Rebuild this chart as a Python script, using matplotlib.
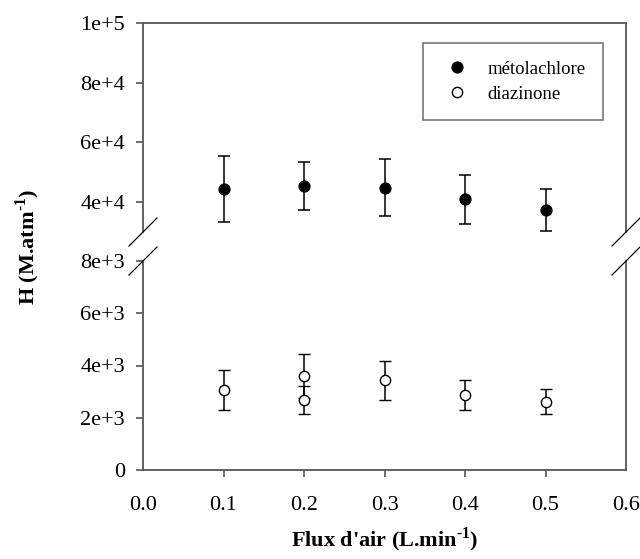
import matplotlib
matplotlib.use("Agg")
import matplotlib.pyplot as plt
from matplotlib.lines import Line2D

plt.rcParams['font.family'] = ['Liberation Serif', 'DejaVu Serif']
plt.rcParams['mathtext.fontset'] = 'custom'
plt.rcParams['mathtext.rm'] = 'Liberation Serif'
plt.rcParams['mathtext.bf'] = 'Liberation Serif:bold'

# Data
x_meto = [0.1, 0.2, 0.3, 0.4, 0.5]
h_meto = [44350, 45400, 44800, 40900, 37400]
err_meto = [11100, 8000, 9550, 8200, 7000]

x_diaz = [0.1, 0.2, 0.2, 0.3, 0.4, 0.5]
h_diaz = [3070, 3595, 2665, 3440, 2870, 2610]
err_diaz = [770, 840, 535, 750, 570, 480]

xticks = [0.1, 0.2, 0.3, 0.4, 0.5]
xticklabels = ['0.0', '0.1', '0.2', '0.3', '0.4', '0.5', '0.6']
yticks_top = [40000, 60000, 80000, 100000]
yticklabels_top = ['4e+4', '6e+4', '8e+4', '1e+5']
yticks_bot = [0, 2000, 4000, 6000, 8000]
yticklabels_bot = ['0', '2e+3', '4e+3', '6e+3', '8e+3']

W, H = 640, 559
fig = plt.figure(figsize=(6.4, 5.59), dpi=100)

left, right = 143 / W, 626 / W
ax_top = fig.add_axes([left, 1 - 232 / H, right - left, (232 - 22.7) / H])
ax_bot = fig.add_axes([left, 1 - 470 / H, right - left, (470 - 261) / H])

spine_c = '#555555'
for ax in (ax_top, ax_bot):
    for s in ax.spines.values():
        s.set_color(spine_c)
        s.set_linewidth(1.3)
    ax.set_xlim(0, 0.6)
    ax.tick_params(axis='both', direction='out', length=5, width=1.2,
                   color=spine_c, labelsize=16, pad=8)

ax_top.spines['bottom'].set_visible(False)
ax_bot.spines['top'].set_visible(False)
ax_top.set_ylim(30000, 100000)
ax_bot.set_ylim(0, 8000)
ax_top.set_xticks([])
ax_bot.set_xticks([0.0] + xticks + [0.6])
ax_bot.set_xticklabels(xticklabels)
ax_bot.tick_params(axis='x', pad=14)
ax_bot.xaxis.get_major_ticks()[0].tick1line.set_visible(False)
ax_bot.xaxis.get_major_ticks()[-1].tick1line.set_visible(False)

ax_top.set_yticks(yticks_top)
ax_top.set_yticklabels(yticklabels_top)
ax_bot.set_yticks(yticks_bot)
ax_bot.set_yticklabels(yticklabels_bot)

eb_kw = dict(ecolor='black', elinewidth=1.1, capsize=4.6, capthick=1.1, ls='none')
ax_top.errorbar(x_meto, h_meto, yerr=err_meto, fmt='o', color='black',
                ms=7.8, mfc='black', mec='black', clip_on=False, **eb_kw)
ax_bot.errorbar(x_diaz, h_diaz, yerr=err_diaz, fmt='o', color='black',
                ms=7.4, mfc='white', mec='black', mew=1.0, clip_on=False, **eb_kw)

# break marks
for xp in (143, 626):
    for yp in (232, 261):
        fig.add_artist(Line2D([(xp - 14) / W, (xp + 14) / W],
                              [1 - (yp + 14) / H, 1 - (yp - 14) / H],
                              transform=fig.transFigure, color='black', lw=0.9))

# legend
handles = [Line2D([], [], marker='o', ls='none', color='black', mfc='black', ms=7.8),
           Line2D([], [], marker='o', ls='none', color='black', mfc='white', mew=1.0, ms=7.4)]
leg = fig.legend(handles, ['métolachlore', 'diazinone'], loc='upper right',
                 bbox_to_anchor=(603.3 / W, 1 - 42.7 / H), bbox_transform=fig.transFigure,
                 fontsize=13.5, frameon=True, fancybox=False, borderaxespad=0,
                 borderpad=0.95, handlelength=1.75, handletextpad=0.72,
                 labelspacing=0.42, numpoints=1)
leg.get_frame().set_edgecolor(spine_c)
leg.get_frame().set_linewidth(1.2)

fig.text(28 / W, 1 - 247 / H, "H (M.atm$^{\\mathbf{\u2010}\\mathbf{1}}$)", rotation=90,
         fontsize=16, fontweight='bold', ha='center', va='center')
fig.text(384.5 / W, 1 - 540 / H, "Flux d'air (L.min$^{\\mathbf{\u2010}\\mathbf{1}}$)",
         fontsize=16, fontweight='bold', ha='center', va='center')

fig.savefig('out.png', dpi=100)
